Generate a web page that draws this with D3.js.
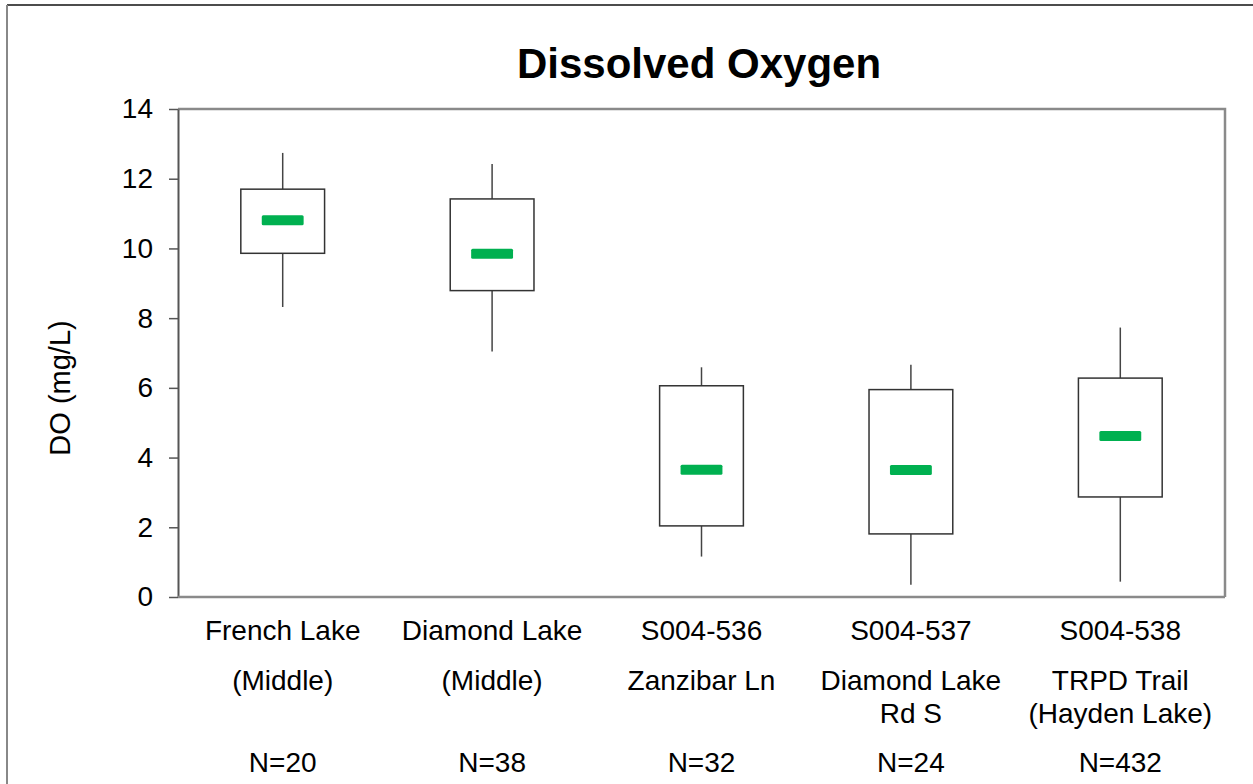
<!DOCTYPE html>
<html>
<head>
<meta charset="utf-8">
<script src="https://cdn.jsdelivr.net/npm/d3@7"></script>
<style>
  body { margin: 0; background: #fff; }
  svg { display: block; font-family: "Liberation Sans", Arial, sans-serif; }
</style>
</head>
<body>
<svg id="chart" width="1253" height="784"></svg>
<script>
// site labels (first line), extra label lines, sample counts
const sites = ["French Lake", "Diamond Lake", "S004-536", "S004-537", "S004-538"];
const siteLines = [["(Middle)"], ["(Middle)"], ["Zanzibar Ln"],
                   ["Diamond Lake", "Rd S"], ["TRPD Trail", "(Hayden Lake)"]];
const counts = [20, 38, 32, 24, 432];

// box statistics, mg/L
const whiskerLow  = [8.32, 7.04, 1.16, 0.35, 0.44];
const q1          = [9.86, 8.79, 2.04, 1.81, 2.87];
const median      = [10.81, 9.85, 3.65, 3.64, 4.62];
const q3          = [11.70, 11.42, 6.06, 5.95, 6.28];
const whiskerHigh = [12.74, 12.42, 6.59, 6.66, 7.73];

const yTicks = [0, 2, 4, 6, 8, 10, 12, 14];

const PLOT_LEFT = 178, PLOT_RIGHT = 1225, PLOT_TOP = 109, PLOT_BOTTOM = 597;
const BOX_FRAC = 0.4, MEDIAN_FRAC = 0.2, MEDIAN_H = 10;

const svg = d3.select("#chart");

// outer frame (top and left edge only visible)
svg.append("line").attr("x1", 7).attr("x2", 1253).attr("y1", 5).attr("y2", 5)
    .attr("stroke", "#111").attr("stroke-width", 1.5);
svg.append("line").attr("x1", 7).attr("x2", 7).attr("y1", 5).attr("y2", 784)
    .attr("stroke", "#888").attr("stroke-width", 2);

const x = d3.scaleBand().domain(sites).range([PLOT_LEFT, PLOT_RIGHT]);
const y = d3.scaleLinear().domain([0, 14]).range([PLOT_BOTTOM, PLOT_TOP]);
const bw = x.bandwidth();
const cx = d => x(d) + bw / 2;

// plot frame: top and right gray
svg.append("path")
    .attr("d", "M" + PLOT_LEFT + "," + y(14) + "H" + PLOT_RIGHT + "V" + y(0))
    .attr("fill", "none").attr("stroke", "#8a8a8a").attr("stroke-width", 2.5);

// y axis
const yAxis = svg.append("g")
    .attr("transform", "translate(" + PLOT_LEFT + ",0)")
    .call(d3.axisLeft(y).tickValues(yTicks).tickSize(9).tickSizeOuter(0)
              .tickPadding(16));
yAxis.select(".domain").attr("stroke", "#555").attr("stroke-width", 2);
yAxis.selectAll(".tick line").attr("stroke", "#555").attr("stroke-width", 1.5);
yAxis.selectAll(".tick text").attr("font-size", 28).attr("fill", "#000")
    .attr("font-family", "Liberation Sans, Arial, sans-serif");

// x axis line
svg.append("line")
    .attr("x1", PLOT_LEFT).attr("x2", PLOT_RIGHT)
    .attr("y1", y(0)).attr("y2", y(0))
    .attr("stroke", "#8a8a8a").attr("stroke-width", 2.5);

// boxes
const rows = sites.map((s, i) => ({
  site: s, lo: whiskerLow[i], q1: q1[i], med: median[i], q3: q3[i],
  hi: whiskerHigh[i]
}));

const g = svg.append("g").selectAll("g").data(rows).join("g");

g.append("line")
    .attr("x1", d => cx(d.site)).attr("x2", d => cx(d.site))
    .attr("y1", d => y(d.hi)).attr("y2", d => y(d.q3))
    .attr("stroke", "#444").attr("stroke-width", 1.5);
g.append("line")
    .attr("x1", d => cx(d.site)).attr("x2", d => cx(d.site))
    .attr("y1", d => y(d.q1)).attr("y2", d => y(d.lo))
    .attr("stroke", "#444").attr("stroke-width", 1.5);
g.append("rect")
    .attr("x", d => cx(d.site) - bw * BOX_FRAC / 2)
    .attr("width", bw * BOX_FRAC)
    .attr("y", d => y(d.q3))
    .attr("height", d => y(d.q1) - y(d.q3))
    .attr("fill", "#fff").attr("stroke", "#333").attr("stroke-width", 1.5);
g.append("rect")
    .attr("x", d => cx(d.site) - bw * MEDIAN_FRAC / 2)
    .attr("width", bw * MEDIAN_FRAC)
    .attr("y", d => y(d.med) - MEDIAN_H / 2)
    .attr("height", MEDIAN_H)
    .attr("rx", 1.5)
    .attr("fill", "#00b050");

// category labels
const lab = svg.append("g").attr("font-size", 28).attr("text-anchor", "middle")
    .attr("fill", "#000");
sites.forEach((s, i) => {
  lab.append("text").attr("x", cx(s)).attr("y", 640).text(s);
  siteLines[i].forEach((t, j) => {
    lab.append("text").attr("x", cx(s)).attr("y", 690 + j * 33).text(t);
  });
  lab.append("text").attr("x", cx(s)).attr("y", 772).text("N=" + counts[i]);
});

// title
svg.append("text")
    .attr("x", 699).attr("y", 78)
    .attr("text-anchor", "middle")
    .attr("font-size", 42).attr("font-weight", "bold")
    .text("Dissolved Oxygen");

// y label
svg.append("text")
    .attr("transform", "translate(60,388) rotate(-90)")
    .attr("text-anchor", "middle")
    .attr("dominant-baseline", "central")
    .attr("font-size", 29)
    .text("DO (mg/L)");
</script>
</body>
</html>
